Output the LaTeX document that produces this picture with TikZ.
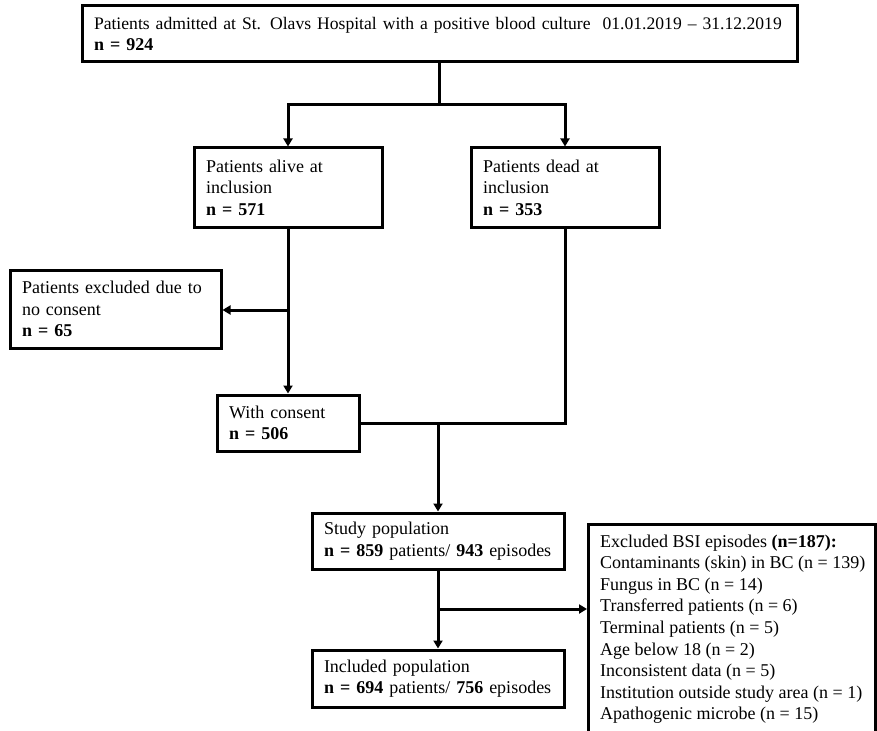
\documentclass[tikz,border=0pt]{standalone}
\usepackage{fontspec}
\setmainfont{Liberation Serif}
\usetikzlibrary{arrows.meta}
\begin{document}
\begin{tikzpicture}[x=1pt,y=-1pt,
  every node/.style={font=\fontsize{18}{21.6}\selectfont},
  fbox/.style={draw, line width=3pt, align=left, inner xsep=12pt, inner ysep=0pt, anchor=center},
  conn/.style={line width=3pt},
  arr/.style={line width=3pt, -{Triangle[length=8pt,width=9pt]}}]
\useasboundingbox (0,0) rectangle (877,730);
\clip (0,0) rectangle (877,730);
\fill[white] (0,0) rectangle (877,730);

\node[fbox, minimum width=715, minimum height=56, text width=691] (top) at (439.5,34)
  {\mbox{\fontsize{17.6}{21.6}\selectfont Patients admitted at St. Olavs Hospital with a positive blood culture\ \ 01.01.2019 -- 31.12.2019}\\\textbf{n = 924}};
\node[fbox, minimum width=188, minimum height=79, text width=164] (alive) at (288,187.5)
  {Patients alive at\\inclusion\\\textbf{n = 571}};
\node[fbox, minimum width=188, minimum height=79, text width=164] (dead) at (565,187.5)
  {Patients dead at\\inclusion\\\textbf{n = 353}};
\node[fbox, minimum width=211, minimum height=78, text width=187] (nocons) at (115.5,309)
  {\mbox{Patients excluded due to}\\no consent\\\textbf{n = 65}};
\node[fbox, minimum width=142, minimum height=56, text width=118] (with) at (288,423)
  {With consent\\\textbf{n = 506}};
\node[fbox, minimum width=252, minimum height=56, text width=228] (study) at (438,541)
  {Study population\\\mbox{\textbf{n = 859} patients/ \textbf{943} episodes}};
\node[fbox, minimum width=252, minimum height=57, text width=228] (incl) at (438,678.5)
  {Included population\\\mbox{\textbf{n = 694} patients/ \textbf{756} episodes}};
\node[draw, line width=3pt, anchor=north west, minimum width=287, minimum height=230, inner sep=0pt] (excl) at (587,523) {};
\node[anchor=base west, align=left, inner sep=0pt] (excltxt) at (600,719.8)
  {Excluded BSI episodes \textbf{(n=187):}\\
   Contaminants (skin) in BC (n = 139)\\
   Fungus in BC (n = 14)\\
   Transferred patients (n = 6)\\
   Terminal patients (n = 5)\\
   Age below 18 (n = 2)\\
   Inconsistent data (n = 5)\\
   Institution outside study area (n = 1)\\
   Apathogenic microbe (n = 15)};

\coordinate (j) at (439.5,105);
\draw[arr] (top.south) -- (j) -| (alive.north);
\draw[arr] (j) -| (dead.north);
\draw[arr] (alive.south) -- (with.north);
\coordinate (b1) at (288,310);
\draw[arr] (b1) -- (b1 -| nocons.east);
\draw[conn] (dead.south) |- (with.east);
\coordinate (m) at (study.north |- with.east);
\draw[arr] (m) -- (study.north);
\draw[arr] (study.south) -- (incl.north);
\coordinate (b2) at (438,609);
\draw[arr] (b2) -- (b2 -| excl.west);
\end{tikzpicture}
\end{document}
